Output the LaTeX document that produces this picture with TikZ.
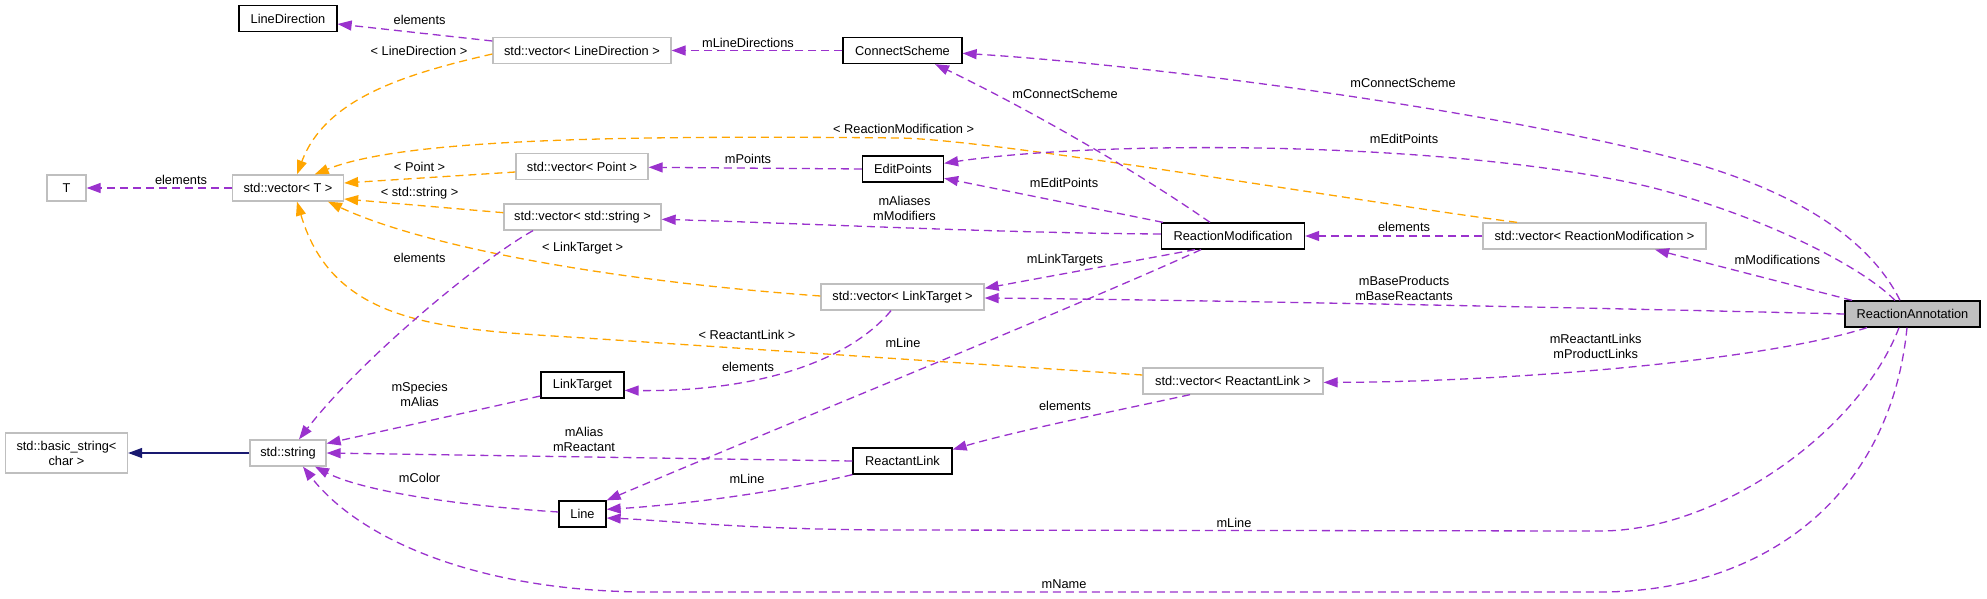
\documentclass[tikz,border=0pt]{standalone}
\usepackage{fontspec}
\setmainfont{Liberation Sans}
\usetikzlibrary{arrows.meta,calc}
\definecolor{dpurple}{HTML}{9A32CD}
\definecolor{dorange}{HTML}{FFA500}
\definecolor{dnavy}{HTML}{191970}
\definecolor{dgray}{HTML}{BFBFBF}
\begin{document}
\begin{tikzpicture}[x=1pt,y=-1pt,
  font=\fontsize{12.8}{15}\selectfont,
  box/.style={rectangle, inner sep=0pt, minimum height=26pt, line width=1.3pt},
  cls/.style={box, draw=black},
  tpl/.style={box, draw=dgray},
  ann/.style={box, draw=black, fill=dgray},
  lbl/.style={inner sep=0pt, align=center},
  edgebase/.style={line width=1.3pt, dash pattern=on 8pt off 5pt},
  pe/.style={edgebase, draw=dpurple, -{Triangle[length=14pt,width=10pt,fill=dpurple]}},
  oe/.style={edgebase, draw=dorange, -{Triangle[length=14pt,width=10pt,fill=dorange]}},
  ne/.style={line width=1.3pt, draw=dnavy, -{Triangle[length=14pt,width=10pt,fill=dnavy]}}]
\useasboundingbox (0,0) rectangle (1987,599);

% nodes
\node[cls, minimum width=98pt] (LD) at (288,18.7) {LineDirection};
\node[tpl, minimum width=178pt] (vLD) at (582,50.5) {std::vector< LineDirection >};
\node[cls, minimum width=119pt] (CS) at (902.5,50.5) {ConnectScheme};
\node[tpl, minimum width=39pt] (T) at (66.5,188) {T};
\node[tpl, minimum width=111pt] (vT) at (288,188) {std::vector< T >};
\node[tpl, minimum width=132pt] (vP) at (582,166.5) {std::vector< Point >};
\node[cls, minimum width=81pt] (EP) at (903,169) {EditPoints};
\node[tpl, minimum width=157pt] (vS) at (582.5,217) {std::vector< std::string >};
\node[cls, minimum width=143pt] (RM) at (1233,236) {ReactionModification};
\node[tpl, minimum width=223pt] (vRM) at (1594.5,236) {std::vector< ReactionModification >};
\node[tpl, minimum width=163pt] (vLT) at (902.5,297) {std::vector< LinkTarget >};
\node[ann, minimum width=135pt] (RA) at (1912.5,314) {ReactionAnnotation};
\node[tpl, minimum width=180pt] (vRL) at (1233,381) {std::vector< ReactantLink >};
\node[cls, minimum width=83pt] (LT) at (582.5,385) {LinkTarget};
\node[tpl, minimum width=122pt, minimum height=40pt, align=center] (BS) at (66.5,453) {std::basic\_string<\\char >};
\node[tpl, minimum width=76pt] (S) at (288,453) {std::string};
\node[cls, minimum width=99pt] (RL) at (902.5,461) {ReactantLink};
\node[cls, minimum width=47pt] (L) at (582.5,514) {Line};

% edges
\draw[pe] (vLD.west |- 0,41) -- (LD.east |- 0,24);
\node[lbl] (l1) at (419.6,20) {elements};

\draw[pe] (CS.west) -- (vLD.east);
\node[lbl] (l2) at (748,42.7) {mLineDirections};

\draw[oe] (vLD.west |- 0,54) .. controls (400,75) and (325,100) .. (vT.north -| 297,0);
\node[lbl] (l3) at (419,50.7) {< LineDirection >};

\draw[pe] (vT.west) -- (T.east);
\node[lbl] (l4) at (181,179.5) {elements};

\draw[oe] (vP.west |- 0,172) -- (vT.east |- 0,183);
\node[lbl] (l5) at (419.6,166.7) {< Point >};

\draw[oe] (vS.west |- 0,212.7) -- (vT.east |- 0,199);
\node[lbl] (l6) at (419.6,192.7) {< std::string >};

\draw[oe] (vLT.west |- 0,296) .. controls (600,280) and (420,245) .. (vT.south -| 328,0);
\node[lbl] (l7) at (582.6,248.3) {< LinkTarget >};

\draw[oe] (vRM.north -| 1517,0) .. controls (1380,205) and (1000,140) .. (900,138) .. controls (600,135) and (400,140) .. (vT.north -| 314.7,0);
\node[lbl] (l8) at (903.6,129) {< ReactionModification >};

\draw[pe] (RA.north -| 1900,0) .. controls (1870,240) and (1800,195) .. (1700,165) .. controls (1500,110) and (1150,65) .. (CS.east |- 0,53.3);
\node[lbl] (l9) at (1403,83.3) {mConnectScheme};

\draw[pe] (RM.north -| 1210,0) .. controls (1120,160) and (1010,100) .. (CS.south -| 935,0);
\node[lbl] (l10) at (1065,94.3) {mConnectScheme};

\draw[pe] (RA.north -| 1895,0) .. controls (1860,265) and (1760,215) .. (1650,187) .. controls (1450,140) and (1100,140) .. (EP.east |- 0,163.3);
\node[lbl] (l11) at (1404,139.3) {mEditPoints};

\draw[pe] (RM.north -| 1163,0) -- (EP.east |- 0,178.3);
\node[lbl] (l12) at (1064,182.7) {mEditPoints};

\draw[pe] (EP.west) -- (vP.east |- 0,167.3);
\node[lbl] (l13) at (748,158.7) {mPoints};

\draw[pe] (RM.west |- 0,234) .. controls (1000,233) and (820,224) .. (vS.east |- 0,219.3);
\node[lbl] (l14) at (904.5,208) {mAliases\\mModifiers};

\draw[pe] (vRM.west) -- (RM.east);
\node[lbl] (l15) at (1404,227.2) {elements};

\draw[pe] (RA.north -| 1852,0) -- (vRM.south -| 1655,0);
\node[lbl] (l16) at (1777.4,260.3) {mModifications};

\draw[pe] (RM.south -| 1195,0) -- (vLT.east |- 0,288.3);
\node[lbl] (l17) at (1065,260.3) {mLinkTargets};

\draw[pe] (RM.south -| 1201,0) .. controls (1080,305) and (760,435) .. (L.north east);
\node[lbl] (l18) at (903,343) {mLine};

\draw[pe] (RA.west) .. controls (1600,308) and (1200,300) .. (vLT.east |- 0,298);
\node[lbl] (l19) at (1404,288) {mBaseProducts\\mBaseReactants};

\draw[pe] (vLT.south -| 891,0) .. controls (850,360) and (760,392) .. (LT.east |- 0,390.4);
\node[lbl] (l20) at (748,366.7) {elements};

\draw[pe] (RA.south -| 1867,0) .. controls (1760,362) and (1500,382) .. (vRL.east |- 0,382.4);
\node[lbl] (l21) at (1595.7,346.5) {mReactantLinks\\mProductLinks};

\draw[oe] (vRL.west |- 0,375) -- (600,339) .. controls (450,329) and (335,330) .. (vT.south -| 297,0);
\node[lbl] (l22) at (747,335) {< ReactantLink >};

\draw[pe] (vRL.south -| 1190,0) .. controls (1120,410) and (1020,430) .. (RL.east |- 0,449.5);
\node[lbl] (l23) at (1065,406.4) {elements};

\draw[pe] (LT.west |- 0,396) -- (S.east |- 0,443.5);
\node[lbl] (l24) at (419.6,394.5) {mSpecies\\mAlias};

\draw[pe] (RL.west) -- (S.east);
\node[lbl] (l25) at (584,439) {mAlias\\mReactant};

\draw[pe] (RL.south west) .. controls (780,492) and (680,505) .. (L.east |- 0,509.3);
\node[lbl] (l26) at (747,478.5) {mLine};

\draw[pe] (L.west |- 0,512) .. controls (450,505) and (360,490) .. (S.south -| 315,0);
\node[lbl] (l27) at (419.6,478.4) {mColor};

\draw[pe] (RA.south -| 1899,0) .. controls (1860,430) and (1720,531) .. (1600,531) -- (900,530) .. controls (750,530) and (660,520) .. (L.east |- 0,518);
\node[lbl] (l28) at (1234,522.6) {mLine};

\draw[pe] (RA.south -| 1907,0) .. controls (1890,500) and (1760,592) .. (1600,592) -- (650,592) .. controls (480,592) and (360,540) .. (S.south -| 303,0);
\node[lbl] (l29) at (1064,584) {mName};

\draw[pe] (vS.south -| 533,0) .. controls (480,260) and (360,360) .. (S.north -| 299,0);
\node[lbl] (l30) at (419.6,258.3) {elements};

\draw[ne] (S.west) -- (BS.east);
\end{tikzpicture}
\end{document}
